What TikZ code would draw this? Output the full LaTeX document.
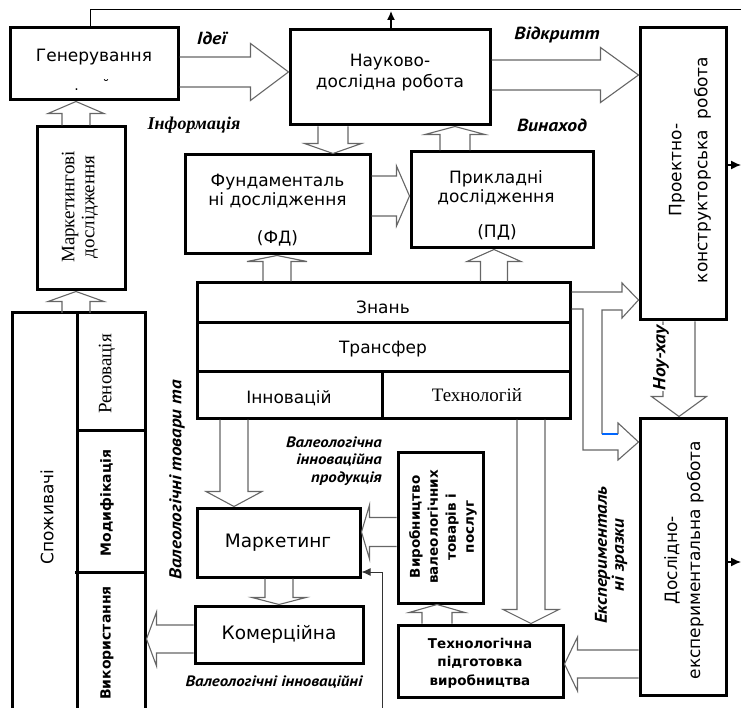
\documentclass[tikz,border=0pt]{standalone}
\usepackage{fontspec}
\setmainfont{DejaVu Sans}
\newfontfamily\dv{DejaVu Sans}
\newfontfamily\lser{Liberation Serif}
\newfontfamily\ptsi[FakeStretch=1.12]{PT Sans}
\usetikzlibrary{calc,arrows.meta}
\tikzset{
  box/.style={draw, line width=3pt, inner sep=0pt},
  barr/.style={draw=black!60, line width=1.1pt},
  thinl/.style={draw=black!60, line width=1.1pt},
  sans/.style={font=\dv\fontsize{17}{20}\selectfont, inner sep=0pt, align=center},
  sansb/.style={font=\dv\bfseries\fontsize{13.5}{18.5}\selectfont, inner sep=0pt, align=center},
  ser/.style={font=\lser\fontsize{19}{21}\selectfont, inner sep=0pt, align=center},
  ital/.style={font=\ptsi\bfseries\itshape\fontsize{17.5}{18}\selectfont, inner sep=0pt, align=center},
  itall/.style={font=\ptsi\bfseries\itshape\fontsize{15}{17.5}\selectfont, inner sep=0pt},
}
% block arrow: tail, tip, half shaft, half head, head length
\newcommand\barrow[5]{%
  \draw[barr] let \p1=#1, \p2=#2, \n1={veclen(\x2-\x1,\y2-\y1)},
    \n2={(\x2-\x1)/\n1}, \n3={(\y2-\y1)/\n1} in
    ({\x1-#3*(\n3)*1pt},{\y1+#3*(\n2)*1pt})
    -- ({\x2-#5*(\n2)*1pt-#3*(\n3)*1pt},{\y2-#5*(\n3)*1pt+#3*(\n2)*1pt})
    -- ({\x2-#5*(\n2)*1pt-#4*(\n3)*1pt},{\y2-#5*(\n3)*1pt+#4*(\n2)*1pt})
    -- (\x2,\y2)
    -- ({\x2-#5*(\n2)*1pt+#4*(\n3)*1pt},{\y2-#5*(\n3)*1pt-#4*(\n2)*1pt})
    -- ({\x2-#5*(\n2)*1pt+#3*(\n3)*1pt},{\y2-#5*(\n3)*1pt-#3*(\n2)*1pt})
    -- ({\x1+#3*(\n3)*1pt},{\y1-#3*(\n2)*1pt});
}
\begin{document}
\begin{tikzpicture}[x=1pt,y=-1pt]
\useasboundingbox (0,0) rectangle (741,708);
% ---------- boxes
\node[box, minimum width=168pt, minimum height=72pt] (gen) at (94,64) {};
\node[box, minimum width=200pt, minimum height=95pt] (nauk) at (390,77.5) {};
\node[box, minimum width=185pt, minimum height=99pt] (fd) at (277.5,204.5) {};
\node[box, minimum width=182pt, minimum height=96pt] (pd) at (502,200) {};
\node[box, minimum width=86pt, minimum height=292pt] (proekt) at (683,174) {};
\node[box, minimum width=86pt, minimum height=277pt] (dosl) at (683,556.5) {};
\node[box, minimum width=88pt, minimum height=163pt] (mdosl) at (81,208.5) {};
\node[box, minimum width=373pt, minimum height=40pt] (znan) at (383.5,303) {};
\node[box, minimum width=373pt, minimum height=48pt] (trans) at (383.5,347) {};
\node[box, minimum width=185pt, minimum height=47pt] (inn) at (289.5,394.5) {};
\node[box, minimum width=188pt, minimum height=47pt] (tech) at (476,394.5) {};
\node[box, minimum width=163pt, minimum height=69pt] (market) at (278.5,542.5) {};
\node[box, minimum width=168pt, minimum height=57pt] (komer) at (279,634.5) {};
\node[box, minimum width=85pt, minimum height=151pt] (vyrob) at (440.5,527.5) {};
\node[box, minimum width=165pt, minimum height=72pt] (tehpid) at (480.5,661) {};
\node[box, minimum width=68pt, minimum height=117pt] (renov) at (111,371.5) {};
\node[box, minimum width=68pt, minimum height=142pt] (modyf) at (111,501) {};
% consumers block (open at the bottom)
\draw[line width=3pt] (12,708) -- (12,313) -- (145,313) -- (145,708);
\draw[line width=3pt] (77,313) -- (77,708);
\draw[line width=3pt] (75,572) -- (145,572);
\coordinate (spoztop) at (76,313);
\coordinate (spozR) at (146.5,639);

% ---------- texts in boxes
\node[sans] (gen-t) at (94,57) {Генерування};
\node[sans, font=\dv\fontsize{14}{16}\selectfont] (gen-r) at (92,85) {.\hspace{24pt}˘};
\node[sans, font=\dv\fontsize{17}{21}\selectfont] (nauk-t) at (390,73) {Науково-\\дослідна робота};
\node[sans, font=\dv\fontsize{17}{19}\selectfont] (fd-t) at (277.5,191) {Фундаменталь\\ні дослідження};
\node[sans] (fd-a) at (277.5,238) {(ФД)};
\node[sans, font=\dv\fontsize{17}{19}\selectfont] (pd-t) at (496,188) {Прикладні\\дослідження};
\node[sans] (pd-a) at (497,232) {(ПД)};
\node[sans, rotate=90, font=\dv\fontsize{17}{26}\selectfont] (proekt-t) at (690,170) {Проектно-\\конструкторська~~робота};
\node[sans, rotate=90, font=\dv\fontsize{17}{23}\selectfont] (dosl-t) at (684,560) {Дослідно-\\експериментальна робота};
\node[ser, rotate=90, font=\lser\fontsize{19}{20}\selectfont] (mdosl-t) at (80,207) {Маркетингові\\дослідження};
\node[sans] (znan-t) at (383,307) {Знань};
\node[sans] (trans-t) at (383,349) {Трансфер};
\node[sans] (inn-t) at (289,398) {Інновацій};
\node[ser] (tech-t) at (477,395) {Технологій};
\node[sans, font=\dv\fontsize{18.5}{20}\selectfont] (market-t) at (278,543) {Маркетинг};
\node[sans, font=\dv\fontsize{18.5}{20}\selectfont] (komer-t) at (279,634) {Комерційна};
\node[sansb, rotate=90, font=\dv\bfseries\fontsize{13.5}{18}\selectfont] (vyrob-t) at (443,527) {Виробництво\\валеологічних\\товарів і\\послуг};
\node[sansb] (tehpid-t) at (480,663) {Технологічна\\підготовка\\виробництва};
\node[ser, rotate=90] (renov-t) at (107,374) {Реновація};
\node[sansb, rotate=90, font=\dv\bfseries\fontsize{14}{16}\selectfont] (modyf-t) at (107,503) {Модифікація};
\node[sansb, rotate=90, font=\dv\bfseries\fontsize{14}{16}\selectfont] (vykor-t) at (107,643) {Використання};
\node[sans, rotate=90] (spoz-t) at (47,517) {Споживачі};

% ---------- block arrows
\barrow{(gen.east |- 0,72)}{(nauk.west |- 0,72)}{15}{28.5}{38}
\barrow{(nauk.south -| 333,0)}{(fd.north -| 333,0)}{15}{28.5}{10}
\barrow{(fd.east |- 0,196)}{(pd.west |- 0,196)}{20}{30}{13}
\barrow{(pd.north -| 455,0)}{(nauk.south -| 455,0)}{15}{30}{8}
\barrow{(nauk.east |- 0,75)}{(proekt.west |- 0,75)}{15}{27.5}{38}
\barrow{(znan.north -| 277,0)}{(fd.south -| 277,0)}{14}{30}{6}
\barrow{(znan.north -| 494,0)}{(pd.south -| 494,0)}{13.5}{27}{12}
\barrow{(mdosl.north -| 76,0)}{(gen.south -| 76,0)}{14}{28}{12}
\barrow{(spoztop)}{(mdosl.south -| 76,0)}{14}{28}{10}
\barrow{(inn.south -| 234,0)}{(market.north -| 234,0)}{14}{28}{15}
\barrow{(market.south -| 279,0)}{(komer.north -| 279,0)}{14}{27}{7}
\barrow{(komer.west |- 0,639)}{(spozR)}{14}{27}{10}
\barrow{(vyrob.west |- 0,532)}{(market.east |- 0,532)}{14.5}{27}{8}
\barrow{(tehpid.north -| 437,0)}{(vyrob.south -| 437,0)}{15}{28}{8}
\barrow{(tech.south -| 531,0)}{(tehpid.north -| 531,0)}{14}{28}{14}
\barrow{(dosl.west |- 0,664)}{(tehpid.east |- 0,664)}{14}{27}{13}
\barrow{(proekt.south -| 679,0)}{(dosl.north -| 679,0)}{16}{27.5}{20}

% ---------- thin line arrows to the design / experimental boxes
\draw[thinl] (znan.east |- 0,292) -- (622,292) -- (622,283) -- (proekt.west |- 0,300)
  -- (622,318) -- (622,310) -- (602,310) -- (602,434);
\draw[draw=blue!60!cyan, line width=1.1pt] (602,434) -- (618,434);
\draw[thinl] (618,434) -- (618,423) -- (dosl.west |- 0,442) -- (618,460) -- (618,450)
  -- (583,450) -- (583,309) -- (znan.east |- 0,309);

% ---------- feedback lines
\draw[line width=1pt] (gen.north -| 90,0) -- (90,10) -- (741,10);
\draw[line width=1.3pt, -{Latex[length=9pt,width=8pt]}] (nauk.north -| 391,0) -- (391,11);
\draw[line width=1.3pt, -{Latex[length=10pt,width=9pt]}] (proekt.east |- 0,165) -- (741,165);
\draw[line width=1.3pt, -{Latex[length=10pt,width=9pt]}] (dosl.east |- 0,562) -- (741,562);
\draw[line width=1pt, draw=black!80, -{Latex[length=9pt,width=8pt]}] (382,708) -- (382,572) -- (market.east |- 0,572);

% ---------- labels
\node[ital] (l-idei) at (212,38) {Ідеї};
\node[ser, font=\lser\itshape\bfseries\fontsize{18}{20}\selectfont] (l-inf) at (194,125) {Інформація};
\node[ital] (l-vidk) at (557,35) {Відкритт};
\node[ital] (l-vyn) at (552,125) {Винаход};
\node[ital, rotate=90, fill=white, inner sep=1pt] (l-nou) at (661,358) {Ноу-хау};
\node[ital, rotate=90, font=\ptsi\bfseries\itshape\fontsize{17}{17}\selectfont] (l-eksp) at (611,555) {Експерименталь\\ні зразки};
\node[itall, align=right, anchor=east] (l-val) at (382,461) {Валеологічна\\інноваційна\\продукція};
\node[itall] (l-valinn) at (274,682) {Валеологічні інноваційні};
\node[itall, rotate=90, font=\ptsi\bfseries\itshape\fontsize{17}{18}\selectfont] (l-tov) at (177,480) {Валеологічні товари та};
\end{tikzpicture}
\end{document}
